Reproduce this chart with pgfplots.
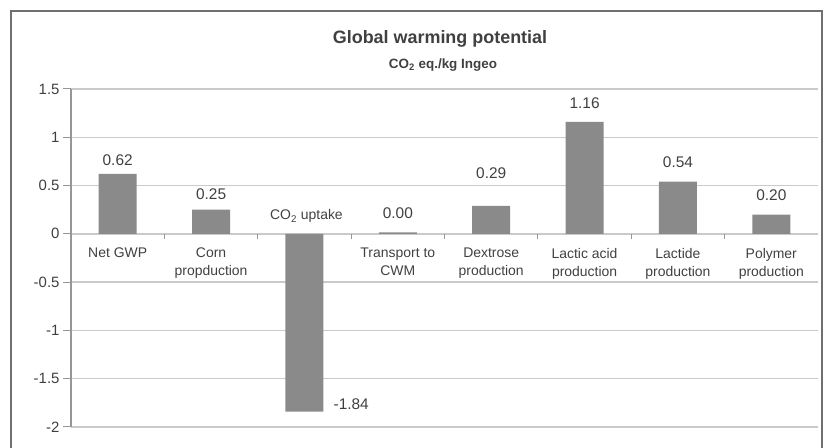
\documentclass[border=0pt]{standalone}
\usepackage{fontspec}
\setmainfont{Liberation Sans}
\usepackage{pgfplots}
\pgfplotsset{compat=1.18}
\definecolor{bargray}{RGB}{138,138,138}
\definecolor{gridgray}{RGB}{202,202,202}
\definecolor{txt}{RGB}{64,64,64}
\definecolor{framegray}{RGB}{112,112,112}
\definecolor{axgray}{RGB}{150,150,150}
\begin{document}
\begin{tikzpicture}[x=1bp,y=1bp]
\useasboundingbox (-71,-21) rectangle (754,427);
\draw[framegray, line width=2bp] (-60,-40) -- (-60,416) -- (751,416) -- (751,-40);
\node[font=\bfseries\fontsize{18}{21}\selectfont, text=txt] at (369,388) {Global warming potential};
\node[font=\bfseries\fontsize{13.5}{16}\selectfont, text=txt] at (372,362) {CO\textsubscript{2} eq./kg Ingeo};
\begin{axis}[
  at={(0,0)}, anchor=south west,
  scale only axis, width=747bp, height=338bp,
  xmin=0.5, xmax=8.5, ymin=-2, ymax=1.5,
  ybar, bar width=38bp,
  axis x line=none, axis y line*=left,
  y axis line style={-, draw=axgray, line width=1.2bp},
  ytick={-2,-1.5,-1,-0.5,0,0.5,1,1.5},
  yticklabels={-2,-1.5,-1,-0.5,0,0.5,1,1.5},
  ymajorgrids, grid style={gridgray, line width=1.5bp},
  tick align=outside, major tick length=8bp,
  ytick style={axgray, line width=1bp},
  yticklabel style={font=\fontsize{15}{18}\selectfont, text=txt},
  clip=false,
]
\addplot[fill=bargray, draw=none] coordinates {(1,0.62) (2,0.25) (3,-1.84) (4,0.015) (5,0.29) (6,1.16) (7,0.54) (8,0.20)};
\pgfplotsinvokeforeach{1.5,2.5,3.5,4.5,5.5,6.5,7.5}{
  \draw[axgray, line width=1bp] (axis cs:#1,0) -- ++(0bp,-5bp);
}
% value labels
\tikzset{vl/.style={font=\fontsize{15.5}{18}\selectfont, text=txt, anchor=base, inner sep=0pt}}
\node[vl, yshift=8.5bp] at (axis cs:1,0.62) {0.62};
\node[vl, yshift=10.5bp] at (axis cs:2,0.25) {0.25};
\node[vl, anchor=base west, xshift=29bp, yshift=2bp] at (axis cs:3,-1.84) {-1.84};
\node[vl, yshift=13.5bp] at (axis cs:4,0.015) {0.00};
\node[vl, yshift=27.5bp] at (axis cs:5,0.29) {0.29};
\node[vl, yshift=13.5bp] at (axis cs:6,1.16) {1.16};
\node[vl, yshift=14bp] at (axis cs:7,0.54) {0.54};
\node[vl, yshift=14.5bp] at (axis cs:8,0.20) {0.20};
% category labels
\tikzset{cl/.style={font=\fontsize{14}{18}\selectfont, text=txt, anchor=north, inner sep=0pt, align=center, yshift=-14bp}}
\node[cl] at (axis cs:1,0) {Net GWP};
\node[cl] at (axis cs:2,0) {Corn\\propduction};
\node[font=\fontsize{14}{18}\selectfont, text=txt, anchor=base, inner sep=0pt, yshift=14bp, xshift=2bp] at (axis cs:3,0) {CO\textsubscript{2} uptake};
\node[cl] at (axis cs:4,0) {Transport to\\CWM};
\node[cl] at (axis cs:5,0) {Dextrose\\production};
\node[cl] at (axis cs:6,0) {Lactic acid\\production};
\node[cl] at (axis cs:7,0) {Lactide\\production};
\node[cl] at (axis cs:8,0) {Polymer\\production};
\end{axis}
\end{tikzpicture}
\end{document}
